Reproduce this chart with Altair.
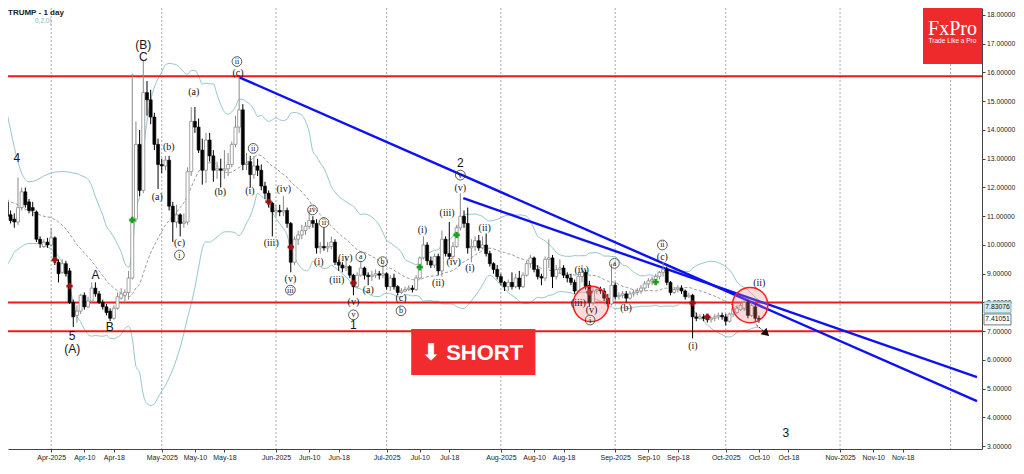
import altair as alt
import pandas as pd

# ---------------- data ----------------
FIRST_DAY = -12  # day offset from 2025-04-01 of the first candle
opens = [11.5, 11.05, 10.9, 10.8, 11.3, 11.85, 11.5, 11.3, 11.15, 10.2,
         9.95, 10.1, 10.0, 10.25, 9.4, 9.05, 9.35, 9.1, 8.0, 7.55,
         7.7, 8.25, 7.85, 8.05, 8.5, 8.3, 8.0, 7.85, 7.7, 7.45,
         7.8, 8.15, 8.25, 8.35, 8.85, 10.9, 13.5, 11.9, 15.3, 15.05,
         14.45, 13.5, 12.8, 12.75, 12.95, 11.35, 10.8, 11.05, 10.75, 10.8,
         12.55, 14.3, 14.1, 13.3, 12.6, 13.65, 13.1, 12.6, 12.65, 12.6,
         12.65, 12.8, 13.5, 14.1, 14.7, 12.8, 12.9, 12.45, 12.75, 12.6,
         12.05, 11.8, 11.45, 11.15, 11.2, 11.15, 11.2, 10.75, 9.4, 10.2,
         10.35, 10.5, 10.65, 10.85, 10.75, 9.9, 9.95, 9.9, 9.95, 10.1,
         9.4, 9.3, 9.2, 9.25, 8.95, 8.55, 8.95, 9.2, 8.95, 8.9,
         8.95, 9.0, 8.95, 9.0, 8.55, 8.85, 8.55, 8.35, 8.4, 8.45,
         8.5, 8.45, 8.85, 9.55, 10.0, 9.45, 9.3, 9.6, 9.1, 10.2,
         9.7, 9.6, 9.95, 10.6, 11.0, 10.75, 9.9, 9.95, 10.15, 9.9,
         10.0, 9.7, 9.35, 9.15, 8.9, 8.7, 8.55, 8.7, 8.55, 8.85,
         8.55, 8.95, 9.35, 9.55, 9.15, 8.9, 8.85, 9.5, 9.55, 8.9,
         9.15, 9.2, 8.95, 8.85, 8.7, 8.4, 8.9, 9.05, 8.6, 8.0,
         8.4, 8.45, 8.4, 8.15, 7.95, 8.6, 8.2, 8.25, 8.3, 8.15,
         8.3, 8.35, 8.4, 8.5, 8.65, 8.75, 8.8, 8.9, 9.05, 9.15,
         8.7, 8.35, 8.45, 8.5, 8.4, 8.2, 8.25, 7.5, 7.45, 7.5,
         7.55, 7.4, 7.45, 7.5, 7.55, 7.5, 7.35, 7.6, 7.65, 7.75,
         7.8, 8.0, 7.55, 7.85, 7.45]
highs = [11.7, 11.2, 11.1, 12.35, 12.0, 12.0, 11.6, 11.5, 11.2, 10.3,
         10.2, 10.25, 10.6, 10.3, 9.5, 9.5, 9.45, 9.2, 8.1, 7.9,
         8.3, 8.35, 8.2, 8.7, 8.7, 8.4, 8.1, 7.95, 7.8, 7.9,
         8.35, 8.5, 8.45, 9.1, 15.95, 14.3, 14.0, 16.4, 15.7, 15.4,
         14.6, 13.7, 13.0, 13.1, 13.1, 11.5, 11.4, 11.1, 11.1, 12.7,
         14.8, 14.8, 14.4, 13.7, 13.9, 13.9, 13.3, 12.9, 13.0, 13.3,
         13.2, 13.6, 14.5, 15.85, 14.9, 13.2, 13.1, 13.1, 13.0, 12.8,
         12.2, 11.9, 11.5, 11.4, 11.4, 11.7, 11.3, 10.8, 10.3, 10.5,
         10.7, 10.8, 11.2, 11.0, 10.9, 10.1, 10.6, 10.1, 10.3, 10.2,
         9.5, 9.4, 9.6, 9.3, 9.0, 9.05, 9.45, 9.25, 9.05, 9.1,
         9.15, 9.1, 9.3, 9.05, 8.95, 9.0, 8.6, 8.5, 8.55, 8.6,
         8.6, 8.95, 9.6, 10.3, 10.1, 9.6, 9.7, 9.7, 10.5, 10.3,
         10.8, 10.1, 10.7, 11.8, 11.2, 11.3, 10.2, 10.3, 10.35, 10.3,
         10.4, 9.8, 9.4, 9.3, 9.0, 8.75, 8.8, 9.05, 9.0, 9.1,
         9.05, 9.45, 9.65, 9.6, 9.3, 9.0, 9.6, 10.2, 9.65, 9.3,
         9.5, 9.3, 9.05, 9.0, 8.8, 9.05, 9.3, 9.15, 8.75, 8.5,
         8.55, 8.55, 8.5, 8.3, 9.35, 8.7, 8.35, 8.4, 8.4, 8.4,
         8.45, 8.5, 8.6, 8.75, 8.85, 8.9, 9.0, 9.1, 9.4, 9.25,
         8.75, 8.55, 8.6, 8.6, 8.45, 8.35, 8.3, 7.65, 7.6, 7.6,
         7.6, 7.5, 7.6, 7.65, 7.65, 7.6, 7.65, 7.85, 7.9, 8.0,
         8.1, 8.1, 8.0, 7.95, 7.55]
lows = [10.9, 10.75, 10.6, 10.7, 11.2, 11.3, 11.1, 11.0, 10.1, 9.9,
        9.9, 9.9, 9.95, 9.3, 8.7, 9.0, 8.9, 7.95, 7.15, 7.3,
        7.6, 7.75, 7.8, 8.0, 8.2, 7.95, 7.75, 7.55, 7.35, 7.4,
        7.75, 8.1, 8.0, 8.1, 8.8, 10.8, 11.7, 11.8, 14.5, 14.2,
        13.3, 11.95, 12.5, 12.6, 11.2, 10.1, 10.6, 10.3, 10.6, 10.7,
        12.4, 13.9, 13.2, 12.1, 12.15, 12.9, 12.2, 12.3, 12.0, 12.3,
        12.4, 12.7, 13.4, 13.9, 12.6, 12.6, 12.0, 12.3, 12.4, 11.9,
        11.6, 11.3, 10.3, 11.0, 11.0, 11.0, 10.6, 9.05, 9.3, 10.0,
        10.2, 10.35, 10.55, 10.6, 9.7, 9.7, 9.8, 9.75, 9.85, 9.3,
        9.1, 9.05, 9.1, 8.85, 8.25, 8.5, 8.9, 8.8, 8.6, 8.75,
        8.85, 8.8, 8.85, 8.45, 8.4, 8.45, 8.25, 8.3, 8.35, 8.4,
        8.35, 8.4, 8.8, 9.5, 9.3, 9.2, 9.2, 8.95, 8.9, 9.6,
        9.5, 9.5, 9.9, 10.5, 10.6, 9.7, 9.4, 9.8, 9.8, 9.85,
        9.6, 9.25, 9.0, 8.8, 8.6, 8.4, 8.4, 8.45, 8.5, 8.45,
        8.5, 8.9, 9.2, 9.05, 8.8, 8.6, 8.75, 9.2, 8.5, 8.8,
        9.0, 8.85, 8.7, 8.6, 8.3, 8.35, 8.7, 8.45, 7.85, 7.9,
        8.3, 8.3, 8.05, 7.85, 7.9, 8.1, 8.1, 8.15, 8.0, 8.1,
        8.2, 8.25, 8.3, 8.4, 8.5, 8.6, 8.65, 8.8, 8.9, 8.6,
        8.25, 8.3, 8.35, 8.3, 8.1, 8.15, 6.75, 7.35, 7.4, 7.35,
        7.3, 7.3, 7.35, 7.4, 7.4, 7.2, 7.3, 7.5, 7.6, 7.7,
        7.7, 7.45, 7.5, 7.35, 7.3]
closes = [11.0, 10.85, 10.8, 11.3, 11.85, 11.4, 11.2, 11.2, 10.2, 10.05,
          10.1, 10.0, 10.25, 9.45, 9.0, 9.35, 9.0, 8.0, 7.5, 7.7,
          8.25, 7.85, 8.05, 8.5, 8.3, 8.0, 7.85, 7.65, 7.45, 7.8,
          8.2, 8.3, 8.35, 8.85, 10.9, 13.5, 11.9, 15.3, 15.05, 14.45,
          13.5, 12.8, 12.75, 12.95, 11.35, 10.8, 11.05, 10.75, 10.8, 12.55,
          14.3, 14.1, 13.3, 12.6, 13.65, 13.1, 12.6, 12.65, 12.6, 12.65,
          12.8, 13.5, 14.1, 14.7, 12.8, 12.85, 12.45, 12.75, 12.6, 12.05,
          11.8, 11.45, 11.15, 11.2, 11.15, 11.2, 10.75, 9.4, 10.2, 10.35,
          10.5, 10.65, 10.85, 10.75, 9.9, 9.95, 9.9, 9.95, 10.1, 9.4,
          9.3, 9.2, 9.25, 8.95, 8.55, 8.95, 9.2, 8.95, 8.9, 8.95,
          9.0, 8.95, 9.0, 8.55, 8.85, 8.55, 8.35, 8.4, 8.45, 8.5,
          8.45, 8.85, 9.55, 10.0, 9.45, 9.3, 9.6, 9.1, 10.2, 9.7,
          9.6, 9.95, 10.6, 11.0, 10.75, 9.9, 9.95, 10.15, 9.9, 10.0,
          9.7, 9.35, 9.15, 8.9, 8.7, 8.55, 8.7, 8.55, 8.85, 8.55,
          8.95, 9.35, 9.55, 9.15, 8.9, 8.85, 9.5, 9.55, 8.9, 9.15,
          9.2, 8.95, 8.85, 8.7, 8.4, 8.9, 9.05, 8.55, 8.0, 8.4,
          8.45, 8.4, 8.15, 7.95, 8.6, 8.2, 8.25, 8.3, 8.15, 8.3,
          8.35, 8.4, 8.5, 8.65, 8.75, 8.8, 8.9, 9.05, 9.15, 8.7,
          8.35, 8.45, 8.5, 8.4, 8.2, 8.25, 7.5, 7.45, 7.5, 7.45,
          7.4, 7.45, 7.5, 7.55, 7.5, 7.35, 7.6, 7.8, 7.8, 7.9,
          8.0, 7.55, 7.9, 7.45, 7.41]

# Bollinger band values at the very left (before 20 candles are available)
lead_days = [-12, -11, -10, -9, -8, -6, -4, -2, 0, 2, 4, 6]
lead_upper = [14.6, 14.0, 13.4, 12.9, 12.5, 12.2, 12.25, 12.4, 12.5, 12.55, 12.55, 12.5]
lead_mid = [11.6, 11.5, 11.45, 11.4, 11.3, 11.2, 11.1, 11.0, 10.95, 10.8, 10.55, 10.2]
lead_lower = [9.3, 9.5, 9.75, 9.85, 9.95, 10.05, 10.05, 10.0, 9.85, 9.6, 9.1, 8.0]

hlines = [15.87, 8.0, 7.0]
trend_id = ["A", "A", "B", "B"]
trend_day = [50.9, 251.15, 111.8, 251.15]
trend_p = [15.84, 4.57, 11.63, 5.40]

plain_txt = ["4", "A", "B", "5", "(A)", "(B)", "C", "1", "2", "3"]
plain_day = [-9.3, 12.0, 15.9, 5.7, 5.7, 25.0, 25.0, 82.0, 111.0, 199.3]
plain_p = [13.03, 8.96, 7.16, 6.82, 6.38, 16.96, 16.54, 7.2, 12.85, 3.46]

paren_txt = ["(a)", "(b)", "(a)", "(b)", "(c)", "(c)", "(i)", "(iii)", "(iv)", "(v)",
             "(i)", "(iv)", "(iii)", "(v)", "(a)", "(c)", "(i)", "(ii)", "(iii)", "(iv)",
             "(v)", "(i)", "(ii)", "(iv)", "(iii)", "(v)", "(b)", "(c)", "(i)", "(ii)"]
paren_day = [38.7, 31.9, 28.8, 45.9, 34.8, 50.7, 53.9, 59.7, 63.1, 64.9,
             72.6, 79.8, 77.5, 82.0, 86.0, 94.9, 100.7, 105.0, 107.4, 109.2,
             111.0, 113.6, 117.6, 143.9, 143.0, 146.6, 155.96, 165.8, 174.1, 192.1]
paren_p = [15.33, 13.4, 11.68, 11.85, 10.08, 15.97, 11.89, 10.08, 11.94, 8.81,
           9.42, 9.54, 8.78, 8.03, 8.43, 8.15, 10.52, 8.67, 11.1, 9.42,
           11.98, 9.19, 10.58, 9.13, 7.97, 7.74, 7.8, 9.59, 6.49, 8.67]

circ_txt = ["ii", "i", "ii", "iii", "iv", "ii", "v", "a", "b", "b", "v", "i", "a", "ii"]
circ_day = [50.4, 34.8, 54.8, 64.9, 70.9, 74.0, 82.0, 84.0, 89.9, 94.9, 111.0, 146.2, 152.8, 165.8]
circ_p = [16.38, 9.65, 13.36, 8.43, 11.22, 10.78, 7.57, 9.59, 9.42, 7.71, 12.43, 7.39, 9.36, 10.0]

cross_day = [1, 5, 22, 59, 65, 82, 100, 110, 146, 164, 174, 178]
cross_p = [9.48, 8.57, 10.87, 11.5, 9.93, 8.68, 9.23, 10.35, 8.36, 8.71, 7.98, 7.5]
cross_kind = ["sell", "sell", "buy", "sell", "sell", "sell", "buy", "buy", "sell", "buy", "sell", "sell"]

ring_day = [146.4, 189.6]
ring_p = [7.95, 7.91]

arrow_day = [191.3, 193.9]
arrow_p = [7.22, 6.93]

short_box_day = [97.67, 131.36]
short_box_p = [7.08, 5.48]

tag_vals = [7.83076, 7.41051]
tag_txt = ["7.83076", "7.41051"]

# ---------------- helpers ----------------
BASE = pd.Timestamp("2025-04-01").value // 10**6
DAY = 86400000


def ms(d):
    return BASE + d * DAY


def dms(s):
    return pd.Timestamp(s).value // 10**6


tick_vals = []
for m in range(4, 12):
    for dd in (1, 10, 18):
        tick_vals.append(dms(f"2025-{m:02d}-{dd:02d}"))
grid_vals = [dms(f"2025-{m:02d}-01") for m in range(4, 13)]

W, H = 974, 441
AXFONT = "Liberation Sans Narrow, Arial Narrow, Liberation Sans, sans-serif"
XS = alt.Scale(type="utc", domain=[ms(-10.348), ms(251.15)])
YS = alt.Scale(domain=[2.904, 18.243], zero=False, nice=False)
XA = alt.Axis(values=tick_vals, grid=False, title=None, orient="bottom",
              labelExpr="utcdate(datum.value) == 1 ? utcFormat(datum.value, '%b-%Y') : utcFormat(datum.value, '%b-%d')",
              labelFont=AXFONT, labelFontSize=7, labelColor="#222", tickSize=3,
              tickColor="#444", domainColor="#444", labelPadding=1, labelOverlap=False,
              labelFlush=False)
YA = alt.Axis(orient="right", values=list(range(3, 19)), format=".5f", grid=False, title=None,
              labelFont=AXFONT, labelFontSize=6.8, labelColor="#222", tickSize=3,
              tickColor="#444", domainColor="#444", labelPadding=1.5, labelOverlap=False)


def X(f="t"):
    return alt.X(f"{f}:T", scale=XS, axis=XA)


def Y(f):
    return alt.Y(f"{f}:Q", scale=YS, axis=YA)


days = list(range(FIRST_DAY, FIRST_DAY + len(closes)))
candles = pd.DataFrame({"t": [ms(d) for d in days], "o": opens, "h": highs, "l": lows, "c": closes})
candles["up"] = [c >= o for o, c in zip(opens, closes)]
up_c = candles[candles["up"]]
dn_c = candles[~candles["up"]]

s = pd.Series(closes, dtype=float)
mid = s.rolling(20).mean()
sd = s.rolling(20).std(ddof=0)
rows = [(ms(d), u, m, l) for d, u, m, l in zip(lead_days, lead_upper, lead_mid, lead_lower)]
for i, d in enumerate(days):
    if i >= 19:
        rows.append((ms(d), mid[i] + 2 * sd[i], mid[i], mid[i] - 2 * sd[i]))
bb = pd.DataFrame(rows, columns=["t", "upper", "mid", "lower"])

grid_df = pd.DataFrame({"t": grid_vals})
hl_df = pd.DataFrame({"p": hlines})
tr_df = pd.DataFrame({"id": trend_id, "t": [ms(d) for d in trend_day], "p": trend_p})
plain_df = pd.DataFrame({"t": [ms(d) for d in plain_day], "p": plain_p, "txt": plain_txt})
paren_df = pd.DataFrame({"t": [ms(d) for d in paren_day], "p": paren_p, "txt": paren_txt})
circ_df = pd.DataFrame({"t": [ms(d) for d in circ_day], "p": circ_p, "txt": circ_txt})
cross_df = pd.DataFrame({"t": [ms(d) for d in cross_day], "p": cross_p, "kind": cross_kind})
ring_df = pd.DataFrame({"t": [ms(d) for d in ring_day], "p": ring_p})
arrow_df = pd.DataFrame({"t": [ms(d) for d in arrow_day], "p": arrow_p})
head_df = arrow_df.tail(1)
short_df = pd.DataFrame({"t": [ms(short_box_day[0])], "t2": [ms(short_box_day[1])],
                         "p": [short_box_p[0]], "p2": [short_box_p[1]]})
short_txt_df = pd.DataFrame({"t": [ms(117.6), ms(103.0)], "p": [6.27, 6.27], "txt": ["SHORT", "⬇"]})
tag_df = pd.DataFrame({"p": tag_vals, "p1": [v + 0.19 for v in tag_vals],
                       "p2": [v - 0.19 for v in tag_vals], "txt": tag_txt})
one = pd.DataFrame({"a": [0]})

TEAL = "#94c6cc"
UPC = "#8a8a8a"
INK = "#151515"

layers = []
layers.append(alt.Chart(grid_df).mark_rule(color="#a8a8a8", strokeDash=[2, 2], strokeWidth=1)
              .encode(x=X()))
layers.append(alt.Chart(bb).mark_line(color=TEAL, strokeWidth=1, interpolate="monotone", clip=True)
              .encode(x=X(), y=Y("upper")))
layers.append(alt.Chart(bb).mark_line(color=TEAL, strokeWidth=1, interpolate="monotone", clip=True)
              .encode(x=X(), y=Y("lower")))
layers.append(alt.Chart(bb).mark_line(color="#808080", strokeWidth=0.8, strokeDash=[3, 2],
                                      interpolate="monotone", clip=True)
              .encode(x=X(), y=Y("mid")))
layers.append(alt.Chart(hl_df).mark_rule(color="#f01818", strokeWidth=2).encode(y=Y("p")))
layers.append(alt.Chart(tr_df).mark_line(color="#0c12f2", strokeWidth=2.4, clip=True)
              .encode(x=X(), y=Y("p"), detail="id:N"))
# candles
layers.append(alt.Chart(up_c).mark_rule(strokeWidth=1, color=UPC, clip=True)
              .encode(x=X(), y=Y("l"), y2=alt.Y2("h:Q")))
layers.append(alt.Chart(dn_c).mark_rule(strokeWidth=1, color="#000", clip=True)
              .encode(x=X(), y=Y("l"), y2=alt.Y2("h:Q")))
layers.append(alt.Chart(up_c).mark_bar(size=3, strokeWidth=0.8, fill="white", stroke=UPC, clip=True)
              .encode(x=X(), y=Y("o"), y2=alt.Y2("c:Q")))
layers.append(alt.Chart(dn_c).mark_bar(size=3, strokeWidth=0.6, fill="#000", stroke="#000", clip=True)
              .encode(x=X(), y=Y("o"), y2=alt.Y2("c:Q")))
layers.append(alt.Chart(cross_df[cross_df["kind"] == "buy"])
              .mark_point(shape="cross", filled=True, size=36, opacity=1, fill="#17a317", stroke="#17a317",
                          strokeWidth=0.3)
              .encode(x=X(), y=Y("p")))
layers.append(alt.Chart(cross_df[cross_df["kind"] == "sell"])
              .mark_point(shape="cross", filled=True, size=36, opacity=1, fill="#9c1414", stroke="#9c1414",
                          strokeWidth=0.3)
              .encode(x=X(), y=Y("p")))
layers.append(alt.Chart(ring_df).mark_point(shape="circle", size=1250, filled=True, fill="#ff8080",
                                            fillOpacity=0.28, stroke="#ff1c1c", strokeWidth=1.5,
                                            strokeOpacity=1, opacity=1)
              .encode(x=X(), y=Y("p")))
layers.append(alt.Chart(arrow_df).mark_line(color="#111", strokeWidth=1, strokeDash=[2, 1.5])
              .encode(x=X(), y=Y("p")))
layers.append(alt.Chart(head_df).mark_point(shape="triangle-down", angle=312, filled=True, size=28,
                                            fill="#111", stroke="#111", opacity=1)
              .encode(x=X(), y=Y("p")))
layers.append(alt.Chart(plain_df).mark_text(font="Liberation Sans", fontSize=12, fill=INK)
              .encode(x=X(), y=Y("p"), text="txt:N"))
layers.append(alt.Chart(paren_df).mark_text(font="Liberation Serif", fontSize=10, fill=INK)
              .encode(x=X(), y=Y("p"), text="txt:N"))
layers.append(alt.Chart(circ_df).mark_point(shape="circle", size=95, stroke="#333", fill="white",
                                            fillOpacity=0, strokeWidth=0.8, opacity=1)
              .encode(x=X(), y=Y("p")))
layers.append(alt.Chart(circ_df).mark_text(font="Liberation Serif", fontSize=8, fill=INK, dy=0.5)
              .encode(x=X(), y=Y("p"), text="txt:N"))
layers.append(alt.Chart(short_df).mark_rect(fill="#f22b2f")
              .encode(x=X(), x2=alt.X2("t2:T"), y=Y("p"), y2=alt.Y2("p2:Q")))
layers.append(alt.Chart(short_txt_df.head(1)).mark_text(font="Liberation Sans", fontSize=22,
                                                         fontWeight="bold", fill="white", dy=1)
              .encode(x=X(), y=Y("p"), text="txt:N"))
layers.append(alt.Chart(short_txt_df.tail(1)).mark_text(font="DejaVu Sans", fontSize=23,
                                                         fontWeight="bold", fill="white", dy=1)
              .encode(x=X(), y=Y("p"), text="txt:N"))
# FxPro logo
layers.append(alt.Chart(one).mark_rect(fill="#ef2a2d")
              .encode(x=alt.value(915), x2=alt.value(W), y=alt.value(0), y2=alt.value(56)))
layers.append(alt.Chart(one).mark_text(text="FxPro", font="Liberation Serif", fontSize=20,
                                       fill="white", baseline="middle")
              .encode(x=alt.value(944.5), y=alt.value(21)))
layers.append(alt.Chart(one).mark_text(text="Trade Like a Pro", font="Liberation Sans", fontSize=6.5,
                                       fill="white", baseline="middle")
              .encode(x=alt.value(944.5), y=alt.value(33)))
# title texts
layers.append(alt.Chart(one).mark_text(text="TRUMP - 1 day", font="Liberation Sans", fontSize=8,
                                       fontWeight="bold", fill="#222", align="left", baseline="top")
              .encode(x=alt.value(0), y=alt.value(0.5)))
layers.append(alt.Chart(one).mark_text(text="0,2,0)", font="Liberation Sans", fontSize=6.5,
                                       fill="#7fb3c4", align="left", baseline="middle")
              .encode(x=alt.value(27), y=alt.value(13)))
# value tags on the price axis
layers.append(alt.Chart(tag_df.head(1)).mark_rect(fill="#d6ecee", stroke="#6aa4ad", strokeWidth=0.8)
              .encode(x=alt.value(W + 2), x2=alt.value(W + 29), y=Y("p1"), y2=alt.Y2("p2:Q")))
layers.append(alt.Chart(tag_df.tail(1)).mark_rect(fill="#ffffff", stroke="#555555", strokeWidth=0.8)
              .encode(x=alt.value(W + 2), x2=alt.value(W + 29), y=Y("p1"), y2=alt.Y2("p2:Q")))
layers.append(alt.Chart(tag_df).mark_text(font=AXFONT, fontSize=6.8, fill="#111")
              .encode(x=alt.value(W + 15.5), y=Y("p"), text="txt:N"))

chart = alt.layer(*layers).properties(
    width=W, height=H,
    padding={"left": 0, "top": 0, "right": 34, "bottom": 14},
    autosize=alt.AutoSizeParams(type="none"),
    background="white",
).configure_view(strokeWidth=0)

chart.save("out.html", embed_options={"renderer": "svg", "actions": False})
